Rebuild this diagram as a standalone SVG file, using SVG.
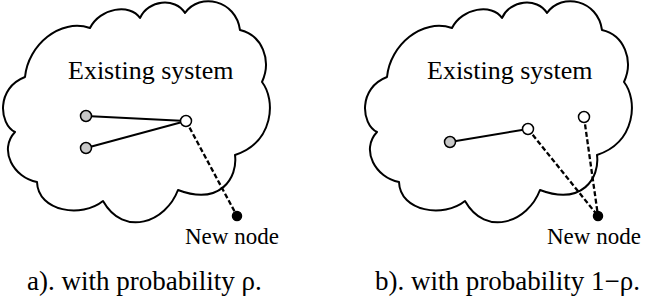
<svg xmlns="http://www.w3.org/2000/svg" width="654" height="300" viewBox="0 0 654 300">
<defs>
<style>
.cloud{fill:#fff;stroke:#000;stroke-width:2;stroke-linejoin:round}
.edge{stroke:#000;stroke-width:2;fill:none}
.dash{stroke:#000;stroke-width:2.3;fill:none;stroke-dasharray:5 2.5}
.g{fill:#c8c8c8;stroke:#000;stroke-width:1.5}
.w{fill:#fff;stroke:#000;stroke-width:1.5}
.b{fill:#000;stroke:#000;stroke-width:1.5}
.t{font-family:"Liberation Serif","Times New Roman",serif;fill:#000}
</style>
<path id="cloudShape" d="M25,77 C28,45 60,18 90,28 C100,8 130,3 140,18 C148,0 175,-3 185,13 C200,-8 236,0 240,30 C262,35 272,60 262,82 C276,100 274,142 235,155 C238,178 220,206 178,190 C166,222 124,238 103,201 C82,218 38,212 37,182 C14,178 -2,150 15,132 C-1,124 -4,88 25,77 Z"/>
</defs>
<g id="cloudA"><use href="#cloudShape" class="cloud"/></g>
<g id="cloudB"><use href="#cloudShape" class="cloud" transform="translate(362,0)"/></g>
<g id="connectors">
<line class="edge" x1="86" y1="116" x2="186" y2="121"/>
<line class="edge" x1="86" y1="148" x2="186" y2="121"/>
<line class="dash" x1="186" y1="121" x2="237" y2="216"/>
<line class="edge" x1="450" y1="142" x2="528" y2="129"/>
<line class="dash" x1="528" y1="129" x2="598" y2="216"/>
<line class="dash" x1="584" y1="117" x2="598" y2="216"/>
</g>
<g id="a-node1"><circle class="g" cx="86" cy="116" r="5.5"/></g>
<g id="a-node2"><circle class="g" cx="86" cy="148" r="5.5"/></g>
<g id="a-node3"><circle class="w" cx="186" cy="121" r="5.5"/></g>
<g id="a-new"><circle class="b" cx="237" cy="216" r="4.5"/></g>
<g id="b-node1"><circle class="g" cx="450" cy="142" r="5.5"/></g>
<g id="b-node2"><circle class="w" cx="528" cy="129" r="5.5"/></g>
<g id="b-node3"><circle class="w" cx="584" cy="117" r="5.5"/></g>
<g id="b-new"><circle class="b" cx="598" cy="216" r="4.5"/></g>
<g id="labels">
<text class="t" x="68" y="79" font-size="26">Existing system</text>
<text class="t" x="427" y="79" font-size="26">Existing system</text>
<text class="t" x="185" y="244" font-size="23">New node</text>
<text class="t" x="547" y="244" font-size="23">New node</text>
<text class="t" x="27" y="290" font-size="27">a). with probability ρ.</text>
<text class="t" x="375" y="290" font-size="27">b). with probability 1−ρ.</text>
</g>
</svg>
